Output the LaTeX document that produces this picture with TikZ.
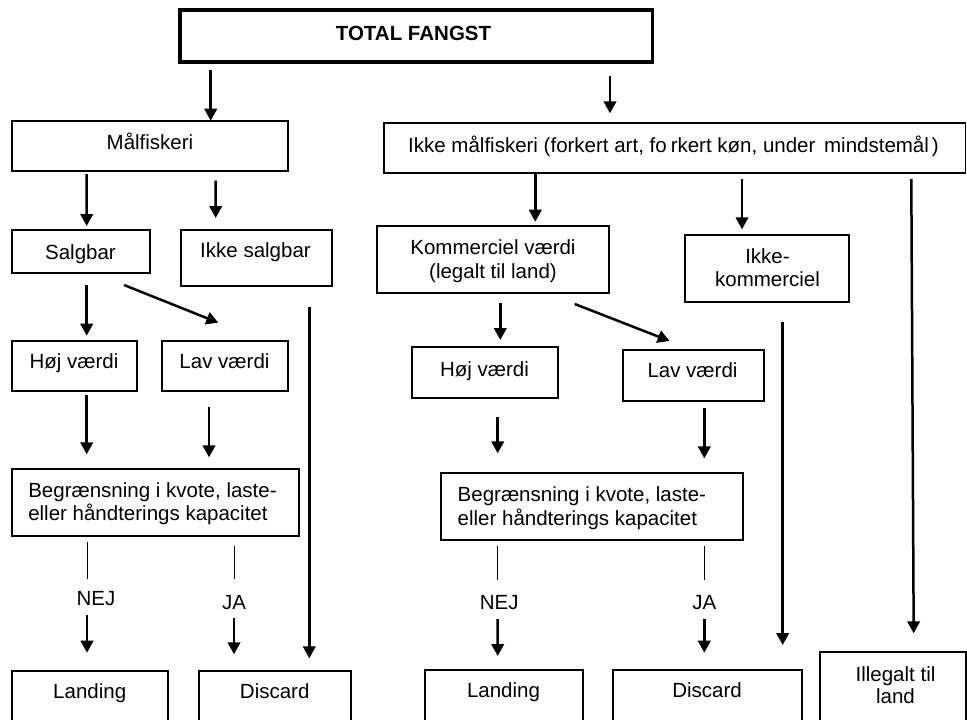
\documentclass[tikz,border=0pt]{standalone}
\usepackage{fontspec}
\setmainfont{Liberation Sans}
\usetikzlibrary{arrows.meta,calc}
\newcommand\ms{\rule[-2.7pt]{0pt}{19.7pt}}
\newcommand\tl[1]{\ms\smash{#1}}
\begin{document}
\begin{tikzpicture}[x=1pt,y=-1pt,
  box/.style={draw=black, line width=2pt, inner sep=0pt, outer sep=0pt},
  txt/.style={inner sep=0pt, outer sep=0pt, align=center, font=\fontsize{20.5}{#1}\selectfont},
  txt/.default=23,
  arr/.style={line width=2.5pt, -{Triangle[length=12pt,width=12.5pt]}},
  thin/.style={line width=1pt}]
\fill[white] (0,0) rectangle (967,720);
\useasboundingbox (0,0) rectangle (967,720);
% boxes
\node[box, line width=3.5pt, minimum width=472.7pt, minimum height=52pt] (tf) at (416.35,36) {};
\node[box, minimum width=275.7pt, minimum height=50.3pt] (mal) at (149.85,145.85) {};
\node[box, line width=1.7pt, minimum width=581.5pt, minimum height=50pt] (ikm) at (674.75,148.3) {};
\node[box, minimum width=138pt, minimum height=42.7pt] (sal) at (81,251.35) {};
\node[box, minimum width=151pt, minimum height=56pt] (iks) at (256.2,258) {};
\node[box, minimum width=232.6pt, minimum height=67.3pt] (kom) at (493,259.65) {};
\node[box, minimum width=163.7pt, minimum height=67pt] (ikk) at (767.15,268.2) {};
\node[box, minimum width=125.3pt, minimum height=50pt] (hojL) at (74.65,365.7) {};
\node[box, minimum width=126.6pt, minimum height=50pt] (lavL) at (225,365.7) {};
\node[box, minimum width=145.4pt, minimum height=51pt] (hojR) at (485,372.2) {};
\node[box, minimum width=141.6pt, minimum height=50.7pt] (lavR) at (693.5,375.35) {};
\node[box, minimum width=287.3pt, minimum height=66.7pt] (begL) at (155.65,502.65) {};
\node[box, minimum width=302pt, minimum height=67.3pt] (begR) at (591.7,506.35) {};
\node[box, minimum width=156.3pt, minimum height=69.3pt] (landL) at (90.15,705.35) {};
\node[box, minimum width=151.4pt, minimum height=69.3pt] (discL) at (275,705.35) {};
\node[box, minimum width=157.7pt, minimum height=70pt] (landR) at (503.85,705) {};
\node[box, minimum width=189pt, minimum height=70pt] (discR) at (707.5,705) {};
\node[box, minimum width=146.3pt, minimum height=88.3pt] (ill) at (892.85,695.85) {};
% texts
\node[txt] (tfT) at (413.5,33.5) {\tl{\bfseries TOTAL FANGST}};
\node[txt] (malT) at (150,142) {\tl{Målfiskeri}};
\node[txt] (ikmT) at (673.5,145.7) {\tl{Ikke målfiskeri (forkert art, fo\hspace{4pt}rkert køn, under\hspace{3pt} mindstemål\hspace{3pt})}};
\node[txt] (salT) at (80.5,252) {\tl{Salgbar}};
\node[txt] (iksT) at (255.5,250.7) {\tl{Ikke salgbar}};
\node[txt=24.4] (komT) at (493,259.5) {\tl{Kommerciel værdi}\\\tl{(legalt til land)}};
\node[txt=22.3] (ikkT) at (767.5,267.85) {\tl{Ikke-}\\\tl{kommerciel}};
\node[txt] (hojLT) at (74,361) {\tl{Høj værdi}};
\node[txt] (lavLT) at (224.5,361) {\tl{Lav værdi}};
\node[txt] (hojRT) at (484.5,369) {\tl{Høj værdi}};
\node[txt] (lavRT) at (692.5,370.7) {\tl{Lav værdi}};
\node[txt=22.6, align=left, anchor=west] (begLT) at (28.3,502) {\tl{Begrænsning i kvote, laste-}\\\tl{eller håndterings kapacitet}};
\node[txt=24.3, align=left, anchor=west] (begRT) at (457.7,506.15) {\tl{Begrænsning i kvote, laste-}\\\tl{eller håndterings kapacitet}};
\node[txt] (nejL) at (96,598.3) {\tl{NEJ}};
\node[txt] (jaL) at (234,602.7) {\tl{JA}};
\node[txt] (nejR) at (499.3,602.7) {\tl{NEJ}};
\node[txt] (jaR) at (704.3,602.7) {\tl{JA}};
\node[txt] (landLT) at (89.7,691) {\tl{Landing}};
\node[txt] (discLT) at (274.7,691) {\tl{Discard}};
\node[txt] (landRT) at (503.5,690.7) {\tl{Landing}};
\node[txt] (discRT) at (707,690.7) {\tl{Discard}};
\node[txt=22] (illT) at (895.5,685) {\tl{Illegalt til}\\\tl{land}};
% connectors
\draw[arr] ($(tf.south west)+(30.7,8)$) -- ($(mal.north west)+(198.7,0)$);
\draw[arr] ($(tf.south east)+(-42.7,14)$) -- ($(ikm.north west)+(226,-10)$);
\draw[arr] ($(mal.south west)+(74.7,3)$) -- ($(sal.north west)+(74.7,-4)$);
\draw[arr] ($(mal.south west)+(203.7,9.7)$) -- ($(iks.north west)+(35,-12)$);
\draw[arr] ($(ikm.south west)+(151.3,0)$) -- ($(kom.north west)+(158.6,-4.3)$);
\draw[arr] ($(ikm.south west)+(358,5.7)$) -- ($(ikk.north west)+(56.7,-5.4)$);
\draw[arr] ($(ikm.south west)+(527.3,5.7)$) -- ($(ill.north west)+(94,-18.4)$);
\draw[arr] ($(sal.south west)+(74.7,12.3)$) -- ($(hojL.north west)+(74.7,-5)$);
\draw[arr] ($(sal.south west)+(112,12.3)$) -- ($(lavL.north west)+(56.6,-18)$);
\draw[arr] ($(iks.south west)+(128.6,21.3)$) -- ($(discL.north west)+(110,-12.4)$);
\draw[arr] ($(kom.south west)+(123.6,10)$) -- ($(hojR.north west)+(88,-6.7)$);
\draw[arr] ($(kom.south west)+(198,10.7)$) -- ($(lavR.north west)+(47,-9)$);
\draw[arr] ($(ikk.south west)+(97.4,20.6)$) -- ($(discR.north west)+(169.7,-25)$);
\draw[arr] ($(hojL.south west)+(74.7,4.3)$) -- ($(begL.north west)+(74.7,-15)$);
\draw[arr] ($(lavL.south west)+(47.3,16)$) -- ($(begL.north west)+(197,-12)$);
\draw[arr] ($(hojR.south west)+(85.4,19.6)$) -- ($(begR.north west)+(57,-19.4)$);
\draw[arr] ($(lavR.south west)+(81.6,7.6)$) -- ($(begR.north west)+(263.6,-14.4)$);
% NEJ / JA
\draw[thin] ($(begL.south west)+(75,6.3)$) -- ($(nejL.center)+(-9,-19)$);
\draw[arr] ($(nejL.center)+(-9,16.7)$) -- ($(landL.north west)+(75,-18)$);
\draw[thin] ($(begL.south west)+(222,10)$) -- ($(jaL.center)+(0,-23.4)$);
\draw[arr] ($(jaL.center)+(0,15.6)$) -- ($(discL.north west)+(34.7,-16.4)$);
\draw[thin] ($(begR.south west)+(57,6)$) -- ($(nejR.center)+(-1.6,-22.7)$);
\draw[arr] ($(nejR.center)+(-1.6,16.3)$) -- ($(landR.north west)+(72.7,-14)$);
\draw[thin] ($(begR.south west)+(263.6,6)$) -- ($(jaR.center)+(0,-22.7)$);
\draw[arr] ($(jaR.center)+(0,16.3)$) -- ($(discR.north west)+(91.3,-17.3)$);
\end{tikzpicture}
\end{document}
